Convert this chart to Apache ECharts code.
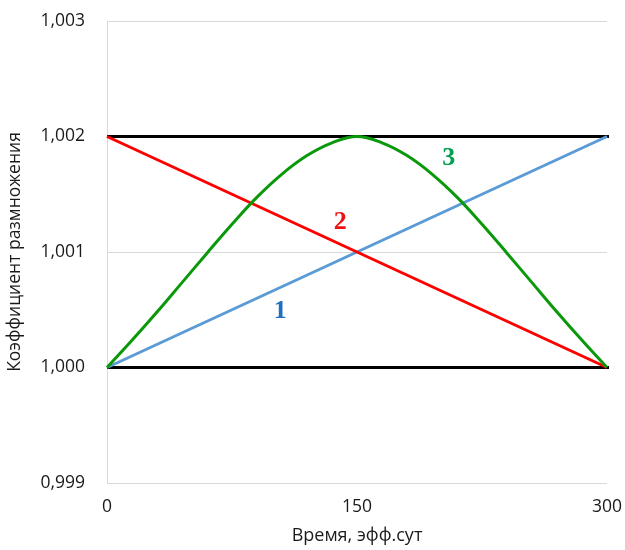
<!DOCTYPE html>
<html><head><meta charset="utf-8">
<script src="https://cdn.jsdelivr.net/npm/echarts@6/dist/echarts.min.js"></script>
<style>html,body{margin:0;padding:0;background:#fff}#c{width:625px;height:550px}</style>
</head><body><div id="c"></div>
<script>
const xTicks = [0, 150, 300];
const yTicks = [0.999, 1.000, 1.001, 1.002, 1.003];
const line1 = [[0, 1.000], [300, 1.002]];
const line2 = [[0, 1.002], [300, 1.000]];
const t3 = [0, 15, 30, 45, 60, 75, 90, 105, 120, 135, 150, 165, 180, 195, 210, 225, 240, 255, 270, 285, 300];
const v3 = [1.000000, 1.000235, 1.000480, 1.000735, 1.000990, 1.001240, 1.001475, 1.001675, 1.001835, 1.001945, 1.002000,
            1.001945, 1.001835, 1.001675, 1.001475, 1.001240, 1.000990, 1.000735, 1.000480, 1.000235, 1.000000];
const limitTop = [[0, 1.002], [311, 1.002]];
const limitBottom = [[0, 1.000], [311, 1.000]];
const labels = [
  {name: '1', x: 104, y: 1.00049, color: '#1f6fc0'},
  {name: '2', x: 140, y: 1.00126, color: '#ee1111'},
  {name: '3', x: 205, y: 1.00181, color: '#00a050'}
];

const chart = echarts.init(document.getElementById('c'));
const fmt = v => v.toFixed(3).replace('.', ',');
chart.setOption({
  animation: false,
  grid: {left: 107, right: 18, top: 21, bottom: 67, containLabel: false, outerBoundsMode: 'none'},
  xAxis: {
    type: 'value', min: 0, max: 300, interval: 150,
    axisLine: {show: false}, axisTick: {show: false}, splitLine: {show: false},
    axisLabel: {color: '#1a1a1a', fontSize: 17.5, fontFamily: 'Open Sans', margin: 15},
    name: 'Время, эфф.сут', nameLocation: 'middle', nameGap: 44,
    nameTextStyle: {color: '#1a1a1a', fontSize: 18, fontFamily: 'Open Sans'}
  },
  yAxis: {
    type: 'value', min: 0.999, max: 1.003, interval: 0.001,
    axisLine: {show: true, lineStyle: {color: '#d9d9d9', width: 1}},
    axisTick: {show: false},
    splitLine: {show: true, lineStyle: {color: '#d9d9d9', width: 1}},
    axisLabel: {color: '#1a1a1a', fontSize: 17.5, fontFamily: 'Open Sans', margin: 22,
      formatter: v => { const m = yTicks.find(t => Math.abs(t - v) < 1e-7); return m !== undefined ? fmt(m) : ''; }},
    name: 'Коэффициент размножения', nameLocation: 'middle', nameGap: 83,
    nameTextStyle: {color: '#1a1a1a', fontSize: 17.5, fontFamily: 'Open Sans'}
  },
  series: [
    {type: 'line', data: limitTop, symbol: 'none', clip: false, lineStyle: {color: '#000', width: 3}, z: 3},
    {type: 'line', data: limitBottom, symbol: 'none', clip: false, lineStyle: {color: '#000', width: 3}, z: 3},
    {type: 'line', data: line1, symbol: 'none', lineStyle: {color: '#5b9bd5', width: 3}, z: 4},
    {type: 'line', data: line2, symbol: 'none', lineStyle: {color: '#ff0000', width: 3}, z: 4},
    {type: 'line', data: t3.map((t, i) => [t, v3[i]]), smooth: 0.4, symbol: 'none', lineStyle: {color: '#0a990a', width: 3}, z: 5},
    {type: 'scatter', symbolSize: 0, z: 6, silent: true, itemStyle: {opacity: 1},
      data: labels.map(l => ({value: [l.x, l.y], name: l.name,
        label: {show: true, position: 'inside', formatter: l.name, color: l.color, opacity: 1,
          fontSize: 26, fontWeight: 'bold', fontFamily: 'Liberation Serif'}}))}
  ]
});
</script></body></html>
